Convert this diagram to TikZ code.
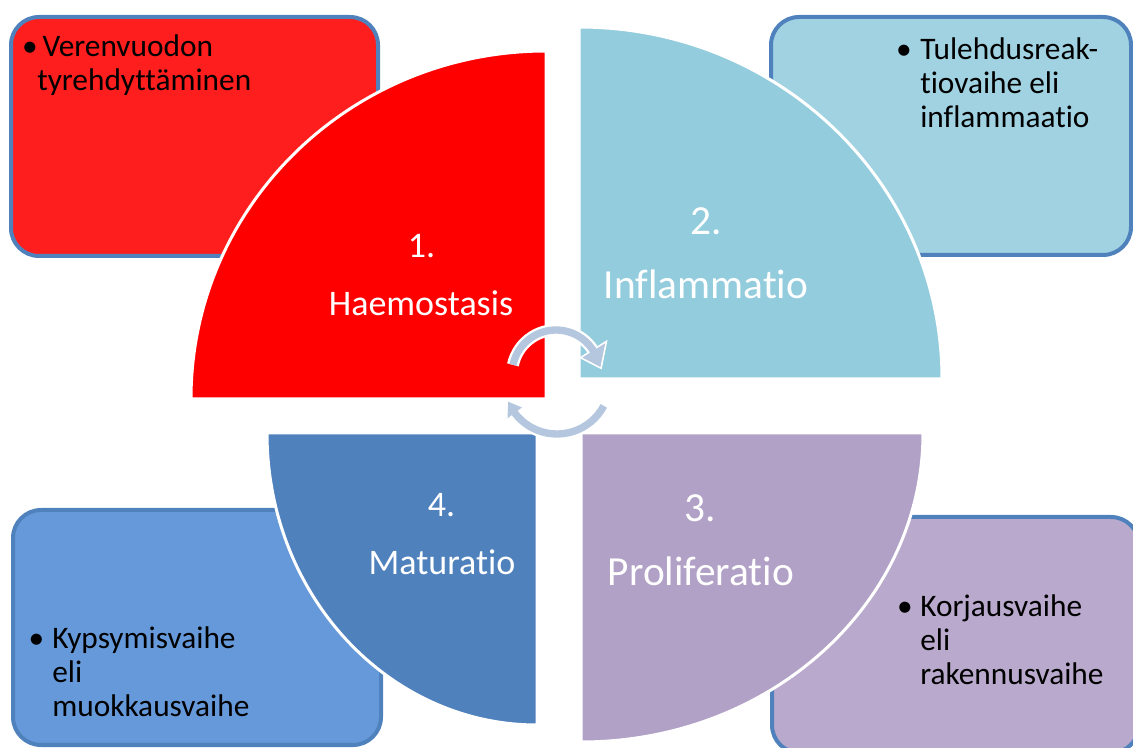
\documentclass[tikz,border=0pt]{standalone}
\usepackage{fontspec}
\setmainfont{Carlito}[Ligatures={NoCommon,NoRare,NoContextual}]
\definecolor{boxline}{RGB}{79,129,189}
\definecolor{redbox}{RGB}{255,30,30}
\definecolor{redq}{RGB}{255,0,0}
\definecolor{cyanbox}{RGB}{160,210,225}
\definecolor{cyanq}{RGB}{147,205,221}
\definecolor{bluebox}{RGB}{102,153,217}
\definecolor{blueq}{RGB}{79,129,189}
\definecolor{purplebox}{RGB}{185,169,204}
\definecolor{purpleq}{RGB}{177,161,198}
\definecolor{arrowc}{RGB}{180,199,222}
\begin{document}
\begin{tikzpicture}[x=0.75pt,y=0.75pt,
  sidebox/.style={line width=3pt, draw=boxline, rounded corners=21pt},
  quarter/.style={draw=white, line width=2.25pt, line join=round},
  biglbl/.style={text=white, anchor=base, inner sep=0pt},
  boxtxt/.style={text=black, anchor=base west, inner sep=0pt, font=\fontsize{23.5}{25.5}\selectfont},
  bul/.style={text=black, anchor=base, inner sep=0pt, font=\fontsize{23.5}{25.5}\selectfont},
  arrwhite/.style={draw=white, line width=9pt},
  arrbody/.style={draw=arrowc, line width=5.5pt}]
\useasboundingbox (0,0) rectangle (1133,747);

% side boxes
\path[sidebox, fill=redbox] (11,491) rectangle (378,730);
\path[sidebox, fill=cyanbox] (771,492) rectangle (1131,730);
\path[sidebox, fill=bluebox] (13,2) rectangle (381,237);
\path[sidebox, fill=purplebox] (772,-6) rectangle (1139,230);

% quarters
\path[quarter, fill=redq] (546,348) -- ++(-355,0) arc[start angle=180, end angle=90, x radius=355, y radius=348] -- cycle;
\path[quarter, fill=cyanq] (579,368) -- ++(0,352) arc[start angle=90, end angle=0, x radius=363, y radius=352] -- cycle;
\path[quarter, fill=purpleq] (581,314) -- ++(342,0) arc[start angle=0, end angle=-90, x radius=342, y radius=309] -- cycle;
\path[quarter, fill=blueq] (537,314) -- ++(0,-292) arc[start angle=-90, end angle=-180, x radius=270, y radius=292] -- cycle;

% circular arrows
\begin{scope}[shift={(556,373)}]
  \coordinate (t1) at (168:44);
  \coordinate (h1a) at (32:31);
  \coordinate (h1b) at (32:58);
  \coordinate (h1t) at (9:45);
  \draw[arrwhite] (t1) arc[start angle=168, end angle=34, radius=44];
  \draw[white, line width=2.5pt, line join=miter, fill=white] (h1a) -- (h1b) -- (h1t) -- cycle;
  \draw[arrbody] (t1) arc[start angle=168, end angle=31, radius=44];
  \fill[arrowc] (h1a) -- (h1b) -- (h1t) -- cycle;
\end{scope}
\begin{scope}[shift={(557,366)}]
  \coordinate (t2) at (-28:53);
  \coordinate (h2a) at (-143:44);
  \coordinate (h2b) at (-143:62);
  \coordinate (h2t) at (-157:53);
  \draw[arrwhite] (t2) arc[start angle=-28, end angle=-144, radius=53];
  \draw[white, line width=2.5pt, fill=white] (h2a) -- (h2b) -- (h2t) -- cycle;
  \draw[arrbody] (t2) arc[start angle=-28, end angle=-145, radius=53];
  \fill[arrowc] (h2a) -- (h2b) -- (h2t) -- cycle;
\end{scope}

% quarter labels
\node[biglbl, font=\fontsize{27}{32}\selectfont] (n1) at (421.5,489) {1.};
\node[biglbl, font=\fontsize{27}{32}\selectfont] (l1) at (421,431.3) {Haemostasis};
\node[biglbl, font=\fontsize{31}{36}\selectfont] (n2) at (706.5,512) {2.};
\node[biglbl, font=\fontsize{31}{36}\selectfont] (l2) at (706,448) {Inflammatio};
\node[biglbl, font=\fontsize{31}{36}\selectfont] (n3) at (700.5,225.3) {3.};
\node[biglbl, font=\fontsize{31}{36}\selectfont] (l3) at (701,161.3) {Proliferatio};
\node[biglbl, font=\fontsize{27}{32}\selectfont] (n4) at (441.5,230) {4.};
\node[biglbl, font=\fontsize{27}{32}\selectfont] (l4) at (442,172) {Maturatio};

% box texts
\node[bul] (b1) at (30,690.3) {\textbullet};
\node[boxtxt] (t1txt) at (37,690.3) {\begin{tabular}[t]{@{}l@{}}\hspace{4pt}Verenvuodon\\tyrehdyttäminen\end{tabular}};
\node[bul] (b2) at (904,687) {\textbullet};
\node[boxtxt] (t2txt) at (920,687) {\begin{tabular}[t]{@{}l@{}}Tulehdusreak-\\tiovaihe eli\\inflammaatio\end{tabular}};
\node[bul] (b3) at (905,130) {\textbullet};
\node[boxtxt] (t3txt) at (920,130) {\begin{tabular}[t]{@{}l@{}}Korjausvaihe\\eli\\rakennusvaihe\end{tabular}};
\node[bul] (b4) at (36.5,98) {\textbullet};
\node[boxtxt] (t4txt) at (52,98) {\begin{tabular}[t]{@{}l@{}}Kypsymisvaihe\\eli\\muokkausvaihe\end{tabular}};
\end{tikzpicture}
\end{document}
